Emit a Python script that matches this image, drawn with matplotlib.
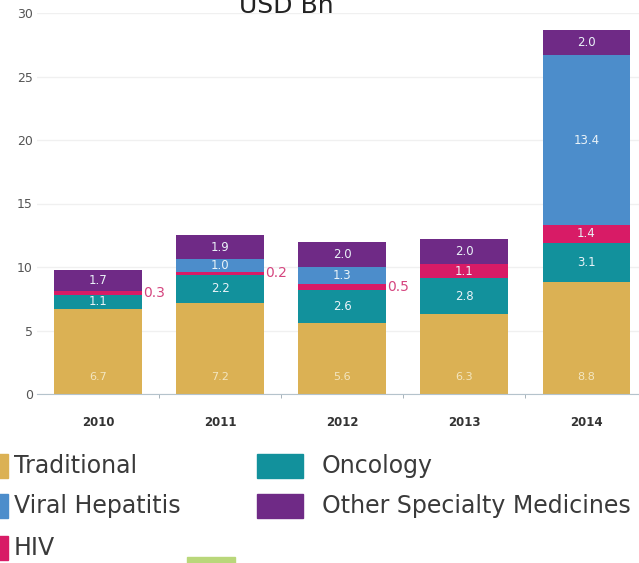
import matplotlib.pyplot as plt
from matplotlib.patches import Rectangle
import numpy as np

years = ["2010", "2011", "2012", "2013", "2014"]
series_names = ["Traditional", "Oncology", "HIV", "Viral Hepatitis", "Other Specialty Medicines"]
traditional = [6.7, 7.2, 5.6, 6.3, 8.8]
oncology = [1.1, 2.2, 2.6, 2.8, 3.1]
hiv = [0.3, 0.2, 0.5, 1.1, 1.4]
hepatitis = [0.0, 1.0, 1.3, 0.0, 13.4]
other = [1.7, 1.9, 2.0, 2.0, 2.0]
y_ticks = [0, 5, 10, 15, 20, 25, 30]

colors = {
    "Traditional": "#DBB154",
    "Oncology": "#12919C",
    "HIV": "#D81B66",
    "Viral Hepatitis": "#4C8DCB",
    "Other Specialty Medicines": "#6F2A86",
}

W, H = 639, 563
fig = plt.figure(figsize=(W / 100, H / 100), dpi=100)
ax = fig.add_axes([37 / W, (H - 394) / H, (W - 37) / W, (394 - 13) / H])

x = np.arange(len(years))
width = 0.72
stack = [traditional, oncology, hiv, hepatitis, other]
bottom = np.zeros(len(years))
for name, vals in zip(series_names, stack):
    vals = np.array(vals)
    ax.bar(x, vals, width, bottom=bottom, color=colors[name], edgecolor="none", zorder=2)
    for i, v in enumerate(vals):
        if v <= 0:
            continue
        if name == "Traditional":
            ax.text(x[i], 1.3, f"{v:.1f}", ha="center", va="center",
                    color="#F3E6C0", fontsize=8)
        elif name == "HIV" and v < 1.0:
            # thin slices get their value written beside the bar
            ax.text(x[i] + width / 2 + 0.01, bottom[i] + v / 2, f"{v:.1f}",
                    ha="left", va="center", color="#D5457F", fontsize=10)
        else:
            ax.text(x[i], bottom[i] + v / 2, f"{v:.1f}", ha="center", va="center",
                    color="#EAF3F8", fontsize=8.5)
    bottom += vals

ax.set_xlim(-0.5, 4.43)
ax.set_ylim(0, 30)
ax.set_yticks(y_ticks)
ax.set_yticklabels([str(t) for t in y_ticks], color="#555555", fontsize=9)
ax.set_xticks(x)
ax.set_xticklabels(years, color="#333333", fontsize=8.5, fontweight="bold")
ax.set_xticks(x[:-1] + 0.5, minor=True)
ax.tick_params(axis="x", which="major", length=0, pad=16)
ax.tick_params(axis="x", which="minor", length=3, color="#9AA7B0")
ax.tick_params(axis="y", length=0, pad=3)
ax.yaxis.grid(True, color="#F0F0F0", linewidth=1, zorder=0)
for s in ["top", "right", "left"]:
    ax.spines[s].set_visible(False)
ax.spines["bottom"].set_color("#B5C3CC")
ax.spines["bottom"].set_zorder(3)

fig.text(286 / W, 1 - 13 / H, "USD Bn", ha="center", va="baseline", fontsize=18, color="#222222")

# legend laid out by hand in two columns
legend_items = [
    ("Traditional", -38, 466, 14),
    ("Viral Hepatitis", -38, 506, 14),
    ("HIV", -38, 548, 14),
    ("Oncology", 257, 466, 322),
    ("Other Specialty Medicines", 257, 506, 322),
]
for name, px, py, tx in legend_items:
    fig.patches.append(Rectangle((px / W, (H - py - 12) / H), 46 / W, 24 / H,
                                 transform=fig.transFigure, color=colors[name]))
    fig.text(tx / W, (H - py) / H, name, ha="left", va="center",
             fontsize=17, color="#3A3A3A")
fig.patches.append(Rectangle((187 / W, 0), 48 / W, 6 / H,
                             transform=fig.transFigure, color="#B9D77A"))

fig.savefig("out.png", dpi=100)
